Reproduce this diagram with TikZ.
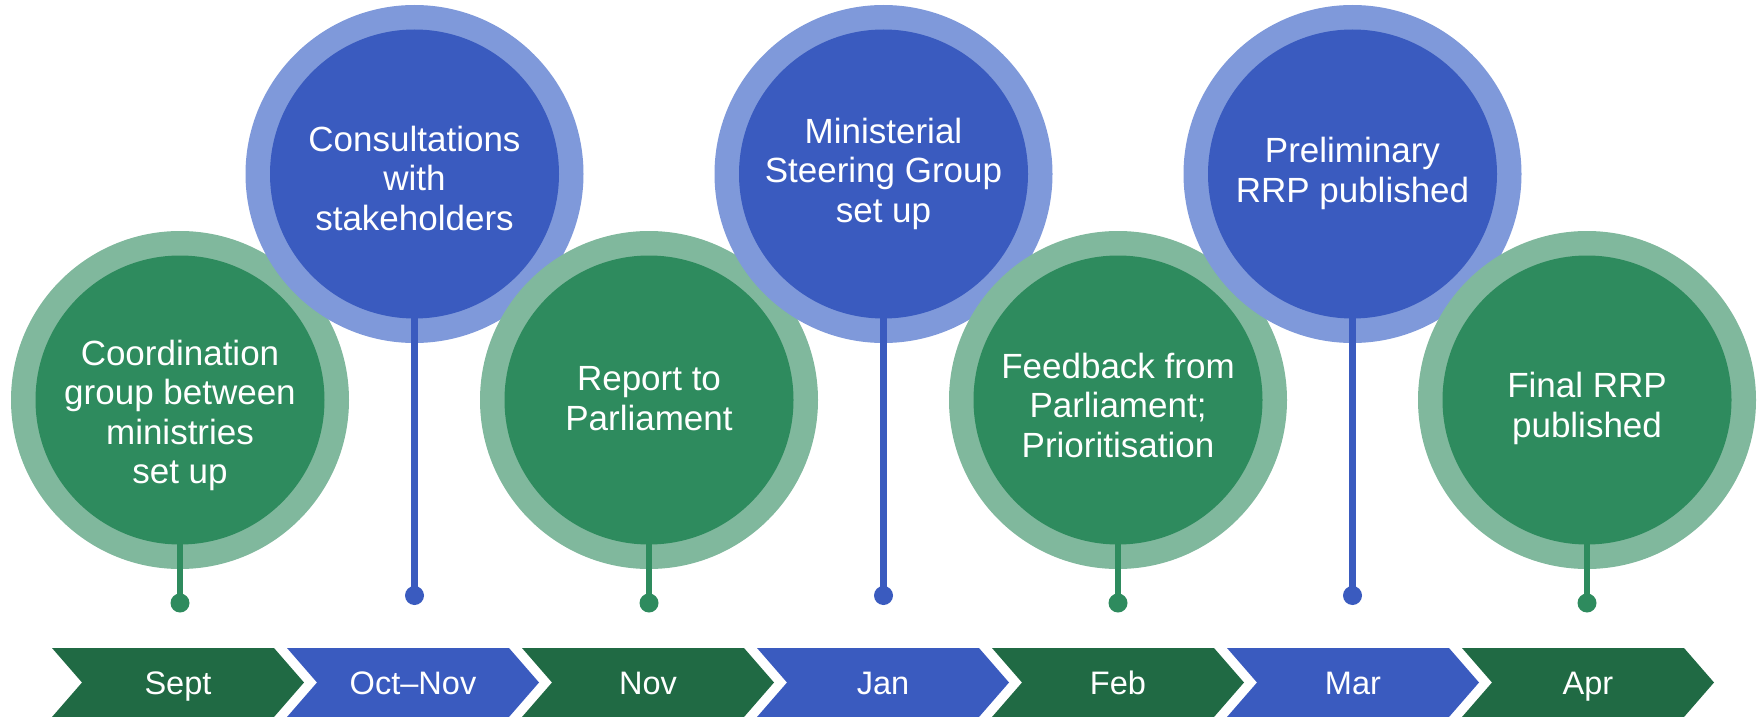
\documentclass[tikz,border=0pt]{standalone}
\usepackage{fontspec}
\setmainfont{Liberation Sans}
\definecolor{gin}{HTML}{2E8B5E}
\definecolor{gout}{HTML}{80B89D}
\definecolor{bin}{HTML}{3A5BBF}
\definecolor{bout}{HTML}{7F99DA}
\definecolor{gchev}{HTML}{206A44}
\tikzset{
  ring/.style={circle, inner sep=0pt, minimum size=253.5pt},
  core/.style={circle, inner sep=0pt, minimum size=216.75pt},
  dotnode/.style={circle, inner sep=0pt, minimum size=14.25pt},
  stemline/.style={line width=4.9pt},
  txt/.style={text=white, align=center, inner sep=0pt, anchor=base,
    font=\fontsize{26.25}{29.6}\selectfont},
  chevtxt/.style={text=white, inner sep=0pt,
    font=\fontsize{24.4}{28}\selectfont, text height=17.5pt, text depth=0pt},
  ringG/.style={ring, fill=gout}, coreG/.style={core, fill=gin},
  ringB/.style={ring, fill=bout}, coreB/.style={core, fill=bin},
  dotG/.style={dotnode, fill=gin}, dotB/.style={dotnode, fill=bin},
  stemG/.style={stemline, draw=gin}, stemB/.style={stemline, draw=bin},
}
\begin{document}
\begin{tikzpicture}[x=0.75pt, y=-0.75pt]
\useasboundingbox (0,0) rectangle (1761,717);

% chevrons
\foreach \i/\lab/\col in {0/Sept/gchev, 1/Oct–Nov/bin, 2/Nov/gchev, 3/Jan/bin, 4/Feb/gchev, 5/Mar/bin, 6/Apr/gchev}{
  \pgfmathsetmacro{\L}{52+235*\i}
  \fill[\col] (\L,648) -- ({\L+222},648) -- ({\L+252},682.5) -- ({\L+222},717) -- (\L,717) -- ({\L+30},682.5) -- cycle;
  \node[chevtxt] (m\i) at ({\L+126},683) {\lab};
}

% 1 Coordination
\node[ringG] (o1) at (180,400) {};
\node[coreG] (c1) at (o1) {};
\node[txt] (t1) at (180,483.5) {Coordination\\group between\\ministries\\set up};
\coordinate (s1) at (180,520);
\node[dotG] (d1) at (180,603) {};
\draw[stemG] (s1) -- (d1.center);

% 2 Consultations
\node[ringB] (o2) at (414.5,174) {};
\node[coreB] (c2) at (o2) {};
\node[txt] (t2) at (414.5,230) {Consultations\\with\\stakeholders};
\coordinate (s2) at (414.5,294);
\node[dotB] (d2) at (414.5,595.5) {};
\draw[stemB] (s2) -- (d2.center);

% 3 Report
\node[ringG] (o3) at (649,400) {};
\node[coreG] (c3) at (o3) {};
\node[txt] (t3) at (649,430) {Report to\\Parliament};
\coordinate (s3) at (649,520);
\node[dotG] (d3) at (649,603) {};
\draw[stemG] (s3) -- (d3.center);

% 4 Ministerial
\node[ringB] (o4) at (883.5,174) {};
\node[coreB] (c4) at (o4) {};
\node[txt] (t4) at (883.5,222) {Ministerial\\Steering Group\\set up};
\coordinate (s4) at (883.5,294);
\node[dotB] (d4) at (883.5,595.5) {};
\draw[stemB] (s4) -- (d4.center);

% 5 Feedback
\node[ringG] (o5) at (1118,400) {};
\node[coreG] (c5) at (o5) {};
\node[txt] (t5) at (1118,457) {Feedback from\\Parliament;\\Prioritisation};
\coordinate (s5) at (1118,520);
\node[dotG] (d5) at (1118,603) {};
\draw[stemG] (s5) -- (d5.center);

% 6 Preliminary
\node[ringB] (o6) at (1352.5,174) {};
\node[coreB] (c6) at (o6) {};
\node[txt] (t6) at (1352.5,202) {Preliminary\\RRP published};
\coordinate (s6) at (1352.5,294);
\node[dotB] (d6) at (1352.5,595.5) {};
\draw[stemB] (s6) -- (d6.center);

% 7 Final
\node[ringG] (o7) at (1587,400) {};
\node[coreG] (c7) at (o7) {};
\node[txt] (t7) at (1587,437) {Final RRP\\published};
\coordinate (s7) at (1587,520);
\node[dotG] (d7) at (1587,603) {};
\draw[stemG] (s7) -- (d7.center);
\end{tikzpicture}
\end{document}
